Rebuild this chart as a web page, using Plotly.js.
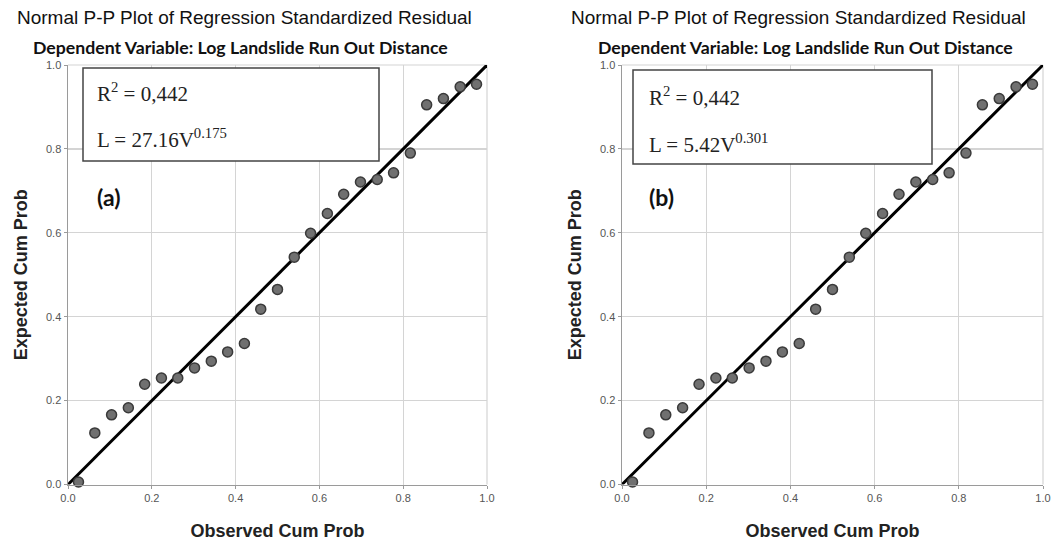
<!DOCTYPE html>
<html>
<head>
<meta charset="utf-8">
<script src="https://cdn.plot.ly/plotly-3.0.1.min.js"></script>
<style>html,body{margin:0;padding:0;background:#fff;}#chart{width:1052px;height:542px;}</style>
</head>
<body>
<div id="chart"></div>
<script>
// Data (both panels show the same residual P-P data)
const observedCumProb = [0.025, 0.064, 0.104, 0.144, 0.183, 0.223, 0.262, 0.302, 0.342, 0.381, 0.421, 0.460, 0.500, 0.540, 0.579, 0.619, 0.658, 0.698, 0.738, 0.777, 0.817, 0.856, 0.896, 0.936, 0.975];
const expectedCumProb = [0.006, 0.123, 0.166, 0.183, 0.239, 0.254, 0.254, 0.278, 0.294, 0.316, 0.336, 0.418, 0.465, 0.542, 0.599, 0.646, 0.692, 0.721, 0.727, 0.743, 0.790, 0.905, 0.920, 0.948, 0.954];
const refLineX = [0, 1.005];
const refLineY = [0, 1.005];
const tickVals = [0, 0.2, 0.4, 0.6, 0.8, 1.0];
const tickText = ["0.0", "0.2", "0.4", "0.6", "0.8", "1.0"];
const panelLabels = ["(a)", "(b)"];
const r2Text = ["R<sup>2</sup> = 0,442", "R<sup>2</sup> = 0,442"];
const eqText = ["L = 27.16V<sup>0.175</sup>", "L = 5.42V<sup>0.301</sup>"];
const mainTitle = "Normal P-P Plot of Regression Standardized Residual";
const subTitle = "Dependent Variable: Log Landslide Run Out Distance";
const xTitle = "Observed Cum Prob";
const yTitle = "Expected Cum Prob";

const W = 1052, H = 542;
const px = x => x / W;
const py = y => 1 - y / H;

const markerStyle = {size: 10, color: '#707070', line: {color: '#3a3a3a', width: 1.5}};
const traces = [];
['', '2'].forEach((s, i) => {
  traces.push({x: refLineX, y: refLineY, xaxis: 'x' + s, yaxis: 'y' + s, mode: 'lines',
    line: {color: '#000', width: 3}, cliponaxis: false, hoverinfo: 'skip', showlegend: false});
  traces.push({x: observedCumProb, y: expectedCumProb, xaxis: 'x' + s, yaxis: 'y' + s, mode: 'markers',
    marker: markerStyle, cliponaxis: false, showlegend: false});
});

const titleFont = {family: 'Liberation Sans, Arial, sans-serif', size: 18, color: '#222', weight: 'bold'};
function axisBase(domain, anchor) {
  return {
    domain: domain, anchor: anchor, range: [0, 1], tickvals: tickVals, ticktext: tickText,
    showgrid: true, gridcolor: '#d4d4d4', gridwidth: 1.2, zeroline: false,
    showline: true, linecolor: '#9a9a9a', linewidth: 1.5,
    ticks: 'outside', ticklen: 3, tickcolor: '#9a9a9a', tickwidth: 1,
    tickfont: {family: 'Liberation Sans, Arial, sans-serif', size: 11, color: '#555'},
    fixedrange: true
  };
}

const yDom = [py(484.5), py(65)];
const layout = {
  width: W, height: H,
  margin: {l: 0, r: 0, t: 0, b: 0},
  paper_bgcolor: '#fff', plot_bgcolor: '#fff',
  showlegend: false,
  xaxis: Object.assign(axisBase([px(68), px(487)], 'y'), {title: {text: xTitle, standoff: 21, font: titleFont}}),
  yaxis: Object.assign(axisBase(yDom, 'x'), {title: {text: yTitle, standoff: 13, font: titleFont}}),
  xaxis2: Object.assign(axisBase([px(622), px(1043)], 'y2'), {title: {text: xTitle, standoff: 21, font: titleFont}}),
  yaxis2: Object.assign(axisBase(yDom, 'x2'), {title: {text: yTitle, standoff: 13, font: titleFont}}),
  shapes: [],
  annotations: []
};

// top / right grid edges and text boxes
const panels = [
  {box: [83, 68, 379, 161], textX: 95, r2Y: 92, eqY: 139, labX: 95, labY: 197, titleC: 244, subC: 240},
  {box: [633, 70, 932, 164], textX: 647, r2Y: 96, eqY: 143, labX: 647, labY: 197, titleC: 798, subC: 805}
];
panels.forEach((p, i) => {
  const s = i === 0 ? '' : '2';
  layout.shapes.push({type: 'line', xref: 'x' + s + ' domain', yref: 'y' + s + ' domain', x0: 0, x1: 1, y0: 1, y1: 1, line: {color: '#d4d4d4', width: 1.2}, layer: 'below'});
  layout.shapes.push({type: 'line', xref: 'x' + s + ' domain', yref: 'y' + s + ' domain', x0: 1, x1: 1, y0: 0, y1: 1, line: {color: '#d4d4d4', width: 1.2}, layer: 'below'});
  layout.shapes.push({type: 'rect', xref: 'paper', yref: 'paper', x0: px(p.box[0]), x1: px(p.box[2]), y0: py(p.box[3]), y1: py(p.box[1]),
    line: {color: '#444', width: 1.5}, fillcolor: 'rgba(255,255,255,1)', layer: 'above'});
  layout.annotations.push({xref: 'paper', yref: 'paper', x: px(p.textX), y: py(p.r2Y), xanchor: 'left', yanchor: 'middle', showarrow: false,
    text: r2Text[i], font: {family: 'Liberation Serif, Times New Roman, serif', size: 21, color: '#222'}});
  layout.annotations.push({xref: 'paper', yref: 'paper', x: px(p.textX), y: py(p.eqY), xanchor: 'left', yanchor: 'middle', showarrow: false,
    text: eqText[i], font: {family: 'Liberation Serif, Times New Roman, serif', size: 21, color: '#222'}});
  layout.annotations.push({xref: 'paper', yref: 'paper', x: px(p.labX), y: py(p.labY), xanchor: 'left', yanchor: 'middle', showarrow: false,
    text: panelLabels[i], font: {family: 'Lato, sans-serif', size: 23, color: '#111', weight: 'bold'}});
  layout.annotations.push({xref: 'paper', yref: 'paper', x: px(p.titleC), y: py(17), xanchor: 'center', yanchor: 'middle', showarrow: false,
    text: mainTitle, font: {family: 'Liberation Sans, Arial, sans-serif', size: 19, color: '#111'}});
  layout.annotations.push({xref: 'paper', yref: 'paper', x: px(p.subC), y: py(47), xanchor: 'center', yanchor: 'middle', showarrow: false,
    text: subTitle, font: {family: 'Lato, sans-serif', size: 17.7, color: '#111', weight: 'bold'}});
});

Plotly.newPlot('chart', traces, layout, {displayModeBar: false, staticPlot: true});
</script>
</body>
</html>
